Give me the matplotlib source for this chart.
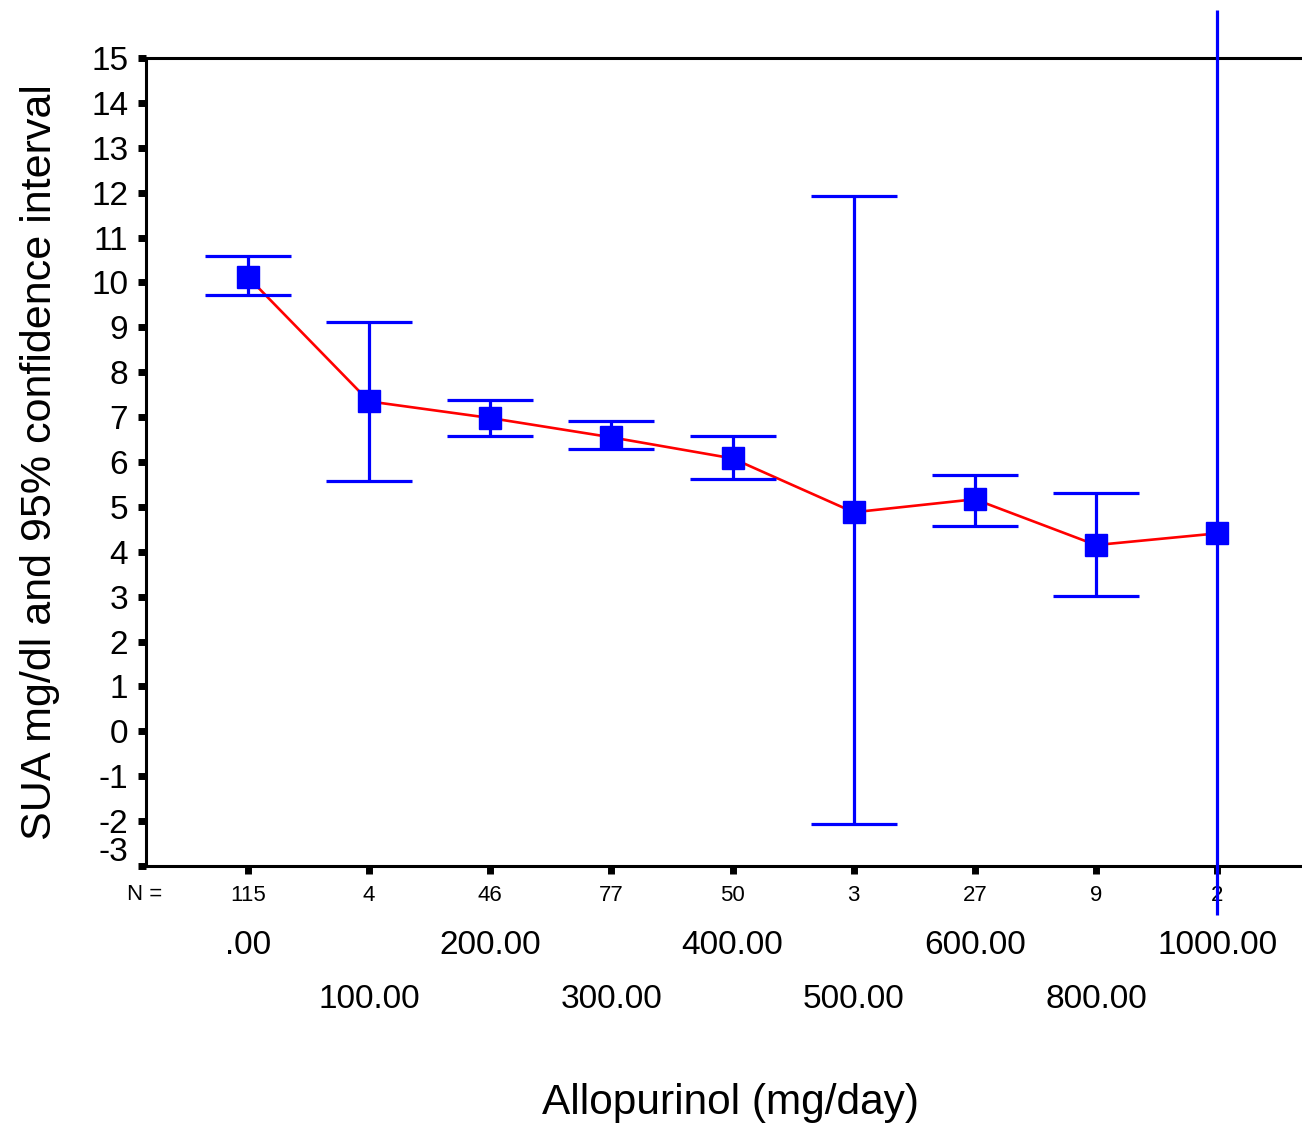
import matplotlib
matplotlib.use("Agg")
import matplotlib.pyplot as plt
import matplotlib.transforms as mtransforms

plt.rcParams["font.family"] = ["Liberation Sans", "DejaVu Sans"]

# valeurs
doses = [".00", "100.00", "200.00", "300.00", "400.00", "500.00", "600.00", "800.00", "1000.00"]
n_counts = ["115", "4", "46", "77", "50", "3", "27", "9", "2"]
means = [10.12, 7.35, 6.98, 6.55, 6.08, 4.88, 5.17, 4.15, 4.41]
ci_low = [9.72, 5.57, 6.57, 6.28, 5.62, -2.07, 4.57, 3.01, -4.10]
ci_high = [10.59, 9.12, 7.38, 6.91, 6.57, 11.92, 5.71, 5.30, 16.07]
y_ticks = list(range(-3, 16))

def main():
	fig = plt.figure(figsize=(13.02, 11.26), dpi=100)
	ax = fig.add_axes([0.1121, 0.2309, 0.8879, 0.7176])

	x = list(range(len(doses)))
	err_low = [m - lo for m, lo in zip(means, ci_low)]
	err_high = [hi - m for m, hi in zip(means, ci_high)]

	# ligne rouge entre les moyennes
	ax.plot(x, means, color="#ff0000", linewidth=1.9, zorder=2)

	# intervalles de confiance (le dernier sort du cadre, sans barres)
	ax.errorbar(x[:-1], means[:-1], yerr=[err_low[:-1], err_high[:-1]],
	            fmt="none", ecolor="#0000ff", elinewidth=2.3, capsize=31,
	            capthick=2.3, zorder=3)
	eb2 = ax.errorbar(x[-1:], means[-1:], yerr=[err_low[-1:], err_high[-1:]],
	                  fmt="none", ecolor="#0000ff", elinewidth=2.3, capsize=0,
	                  zorder=3)
	for part in eb2.lines[2]:
		part.set_clip_on(False)

	ax.plot(x, means, linestyle="none", marker="s", markersize=16,
	        color="#0000ff", zorder=4)

	ax.set_xlim(-0.842, 8.70)
	ax.set_ylim(-3, 15)

	ax.spines["right"].set_visible(False)
	for s in ["left", "top", "bottom"]:
		ax.spines[s].set_linewidth(2.2)

	ax.set_yticks(y_ticks)
	ax.set_yticklabels([str(v) if v != -3 else "" for v in y_ticks], fontsize=24)
	ax.tick_params(axis="y", direction="out", length=5.8, width=5, pad=7)
	# le -3 est décalé vers le haut
	off = mtransforms.ScaledTranslation(-0.18, 0.135, fig.dpi_scale_trans)
	ax.text(0, -3, "-3", transform=mtransforms.blended_transform_factory(ax.transAxes, ax.transData) + off,
	        fontsize=24, ha="right", va="center")

	ax.set_xticks(x)
	ax.set_xticklabels(n_counts, fontsize=16)
	ax.tick_params(axis="x", direction="out", length=5.8, width=5, pad=8)

	trans = mtransforms.blended_transform_factory(ax.transData, fig.transFigure)
	ax.text(-0.85, 1 - 895 / 1126, "N =", transform=trans, fontsize=16,
	        ha="center", va="center")
	for i, lab in enumerate(doses):
		ypix = 945 if i % 2 == 0 else 999
		ax.text(i, 1 - ypix / 1126, lab, transform=trans, fontsize=24,
		        ha="center", va="center")

	fig.text(0.561, 1 - 1103 / 1126, "Allopurinol (mg/day)", fontsize=30.5,
	         ha="center", va="center")
	ax.set_ylabel("SUA mg/dl and 95% confidence interval", fontsize=31, labelpad=22)

	fig.savefig("out.png", dpi=100)

main()
